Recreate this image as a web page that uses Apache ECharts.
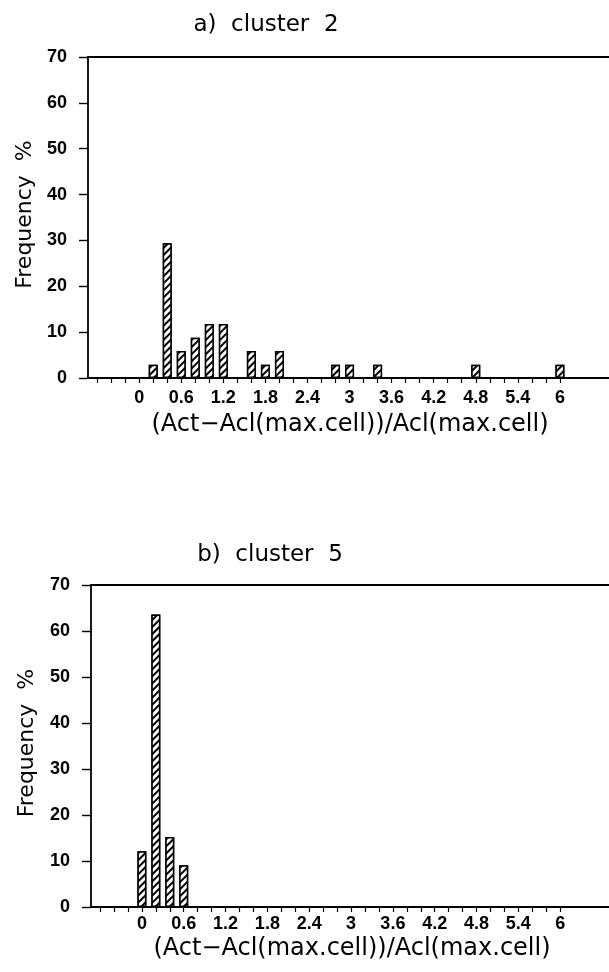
<!DOCTYPE html>
<html>
<head>
<meta charset="utf-8">
<script src="https://cdn.jsdelivr.net/npm/echarts@6/dist/echarts.min.js"></script>
<style>html,body{margin:0;padding:0;background:#fff}#c{width:609px;height:972px}</style>
</head>
<body>
<div id="c"></div>
<script>
// Panel a) cluster 2
const binsA = [0.2, 0.4, 0.6, 0.8, 1.0, 1.2, 1.6, 1.8, 2.0, 2.8, 3.0, 3.4, 4.8, 6.0];
const freqA = [2.9, 29.4, 5.9, 8.8, 11.8, 11.8, 5.9, 2.9, 5.9, 2.9, 2.9, 2.9, 2.9, 2.9];
// Panel b) cluster 5
const binsB = [0.0, 0.2, 0.4, 0.6];
const freqB = [12.1, 63.6, 15.2, 9.1];
// Axis ticks / labels
const xLabelValues = [0, 0.6, 1.2, 1.8, 2.4, 3.0, 3.6, 4.2, 4.8, 5.4, 6.0];
const xTickLabels = ['0', '0.6', '1.2', '1.8', '2.4', '3', '3.6', '4.2', '4.8', '5.4', '6'];
const xTickValues = [-0.6, -0.4, -0.2, 0, 0.2, 0.4, 0.6, 0.8, 1.0, 1.2, 1.4, 1.6, 1.8, 2.0, 2.2, 2.4, 2.6, 2.8, 3.0, 3.2, 3.4, 3.6, 3.8, 4.0, 4.2, 4.4, 4.6, 4.8, 5.0, 5.2, 5.4, 5.6, 5.8, 6.0];
const titles = ['a)  cluster  2', 'b)  cluster  5'];
const yName = 'Frequency  %';
const xName = '(Act\u2212Acl(max.cell))/Acl(max.cell)';

const TICKFONT = 'Liberation Sans';
const TEXTFONT = 'DejaVu Sans';
const panels = [
  {bins: binsA, freq: freqA, left: 88, top: 57, height: 321, xMargin: 11, titleX: 266, titleY: 25, yNameX: 25, xNameX: 350, xNameY: 425},
  {bins: binsB, freq: freqB, left: 91, top: 585, height: 322, xMargin: 8, titleX: 270, titleY: 555, yNameX: 27, xNameX: 352, xNameY: 949}
];

function fmtX(v) {
  let best = 0, d = 1e9;
  xLabelValues.forEach((lv, i) => { if (Math.abs(lv - v) < d) { d = Math.abs(lv - v); best = i; } });
  return xTickLabels[best];
}

const grids = [], xAxes = [], yAxes = [], series = [], graphics = [];
panels.forEach((p, i) => {
  grids.push({left: p.left, top: p.top, width: 609 - p.left, height: p.height, containLabel: false});
  xAxes.push({
    type: 'value', gridIndex: i, min: -0.73, max: 6.7,
    axisLine: {show: true, onZero: false, lineStyle: {color: '#000', width: 1.8}},
    axisTick: {show: true, inside: false, length: 5, lineStyle: {color: '#000', width: 1.2}, customValues: xTickValues},
    axisLabel: {show: true, customValues: xLabelValues, formatter: fmtX, color: '#000', fontFamily: TICKFONT, fontWeight: 'bold', fontSize: 18, margin: p.xMargin},
    splitLine: {show: false}
  });
  xAxes.push({
    type: 'value', gridIndex: i, position: 'top', min: -0.73, max: 6.7,
    axisLine: {show: true, onZero: false, lineStyle: {color: '#000', width: 1.8}},
    axisTick: {show: false}, axisLabel: {show: false}, splitLine: {show: false}
  });
  yAxes.push({
    type: 'value', gridIndex: i, min: 0, max: 70, interval: 10,
    axisLine: {show: true, onZero: false, lineStyle: {color: '#000', width: 1.8}},
    axisTick: {show: true, inside: false, length: 9, lineStyle: {color: '#000', width: 1.4}},
    axisLabel: {color: '#000', fontFamily: TICKFONT, fontWeight: 'bold', fontSize: 18, margin: 21},
    splitLine: {show: false}
  });
  series.push({
    type: 'bar', xAxisIndex: i * 2, yAxisIndex: i, barWidth: 9,
    data: p.bins.map((b, k) => [b, p.freq[k]]),
    itemStyle: {
      color: '#fff', borderColor: '#000', borderWidth: 1.5,
      decal: {symbol: 'rect', symbolSize: 1, color: '#000', backgroundColor: '#fff',
              dashArrayX: [1, 0], dashArrayY: [1.6, 2.4], rotation: -Math.PI / 4}
    },
    animation: false
  });
  graphics.push({type: 'text', x: p.titleX, y: p.titleY, style: {text: titles[i], font: '23px "' + TEXTFONT + '"', fill: '#000', textAlign: 'center', textVerticalAlign: 'middle'}});
  graphics.push({type: 'text', x: p.yNameX, y: p.top + p.height / 2 - 3, rotation: Math.PI / 2, style: {text: yName, font: '22px "' + TEXTFONT + '"', fill: '#000', textAlign: 'center', textVerticalAlign: 'middle'}});
  graphics.push({type: 'text', x: p.xNameX, y: p.xNameY, style: {text: xName, font: '24px "' + TEXTFONT + '"', fill: '#000', textAlign: 'center', textVerticalAlign: 'middle'}});
});

const chart = echarts.init(document.getElementById('c'), null, {renderer: 'canvas'});
chart.setOption({
  animation: false,
  backgroundColor: '#fff',
  grid: grids, xAxis: xAxes, yAxis: yAxes, series: series, graphic: graphics
});
</script>
</body>
</html>
